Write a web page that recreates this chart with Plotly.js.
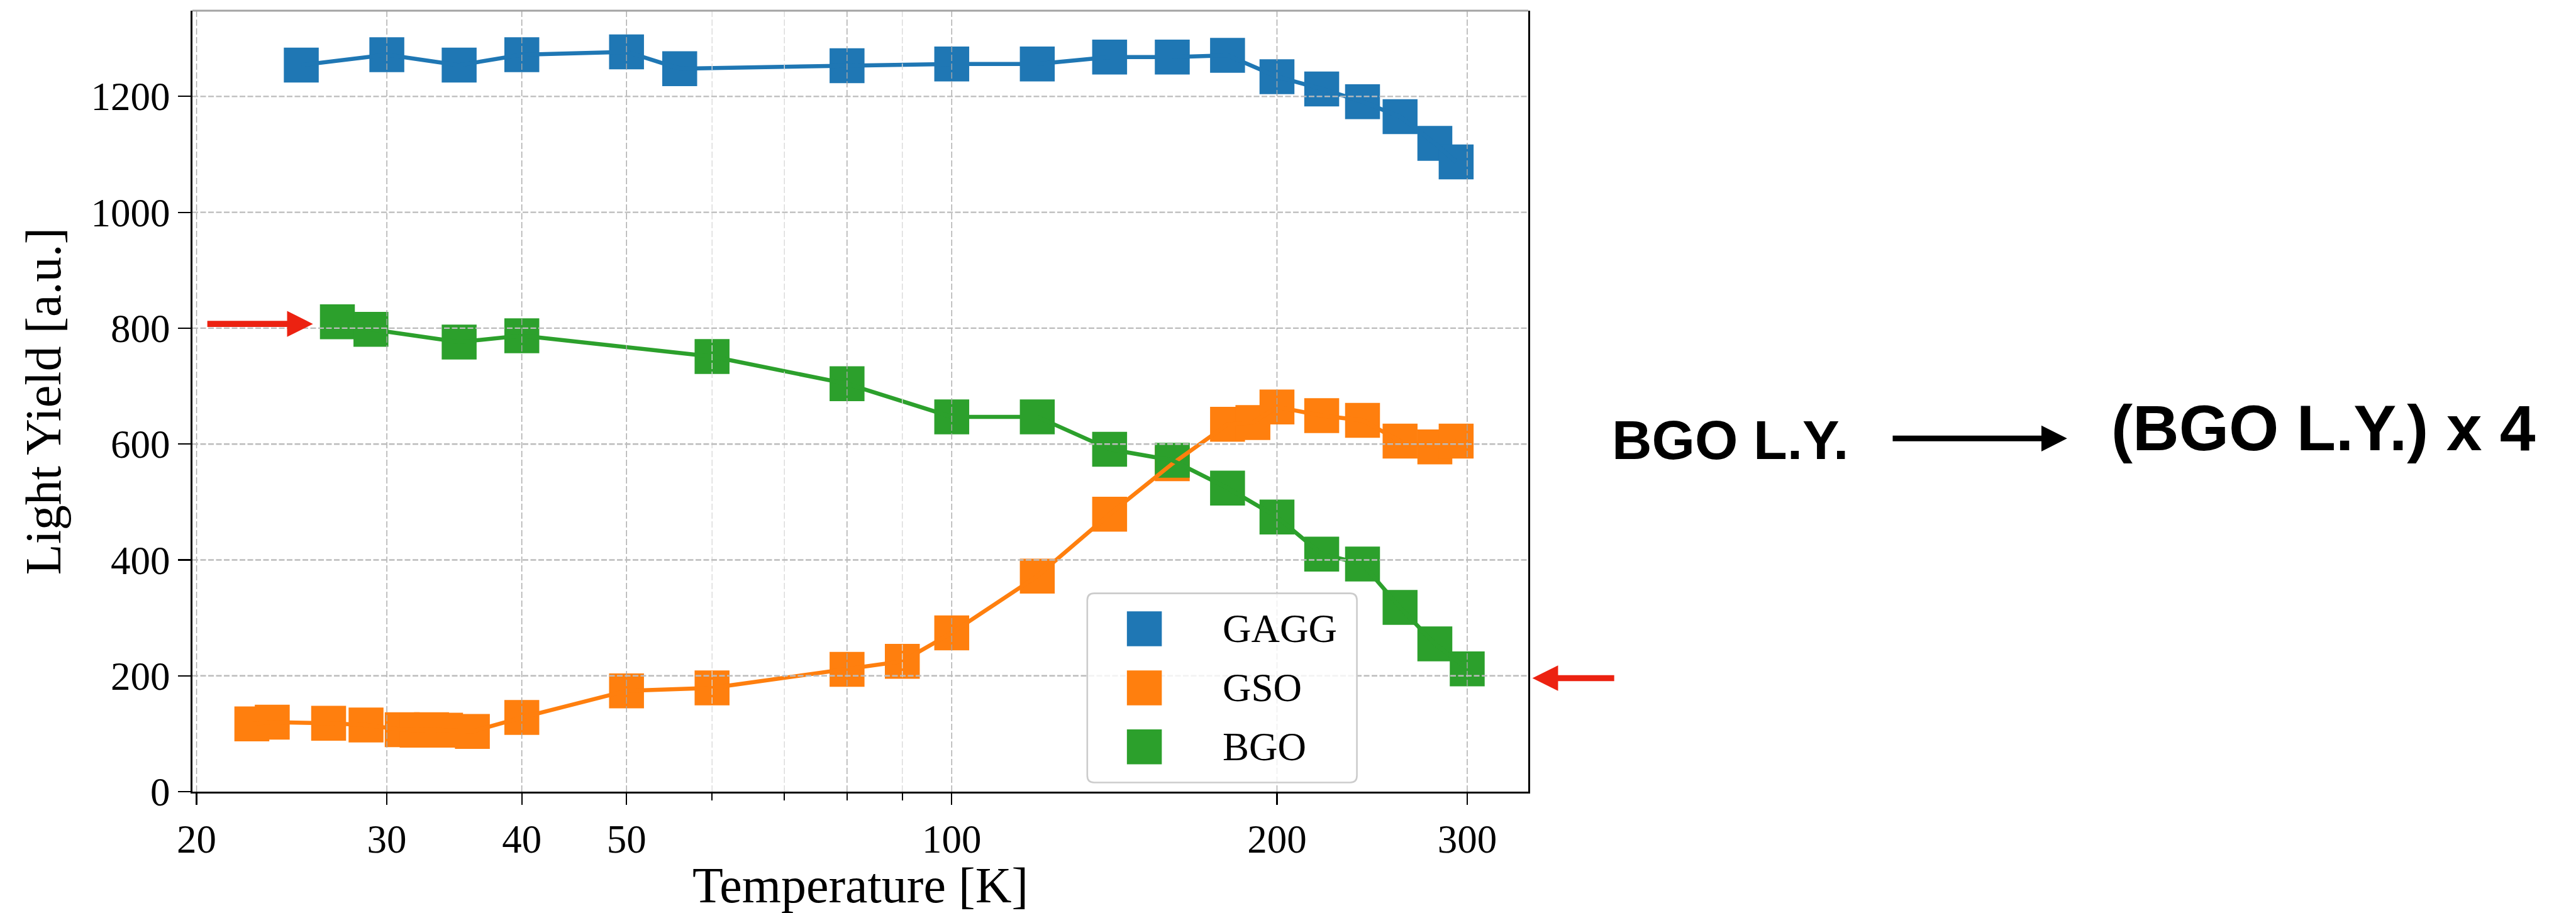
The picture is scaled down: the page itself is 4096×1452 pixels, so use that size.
<!DOCTYPE html>
<html>
<head>
<meta charset="utf-8">
<script src="https://cdn.plot.ly/plotly-3.0.1.min.js"></script>
<style>
html, body { margin: 0; padding: 0; background: #ffffff; }
#chart { width: 4096px; height: 1452px; }
</style>
</head>
<body>
<div id="chart"></div>
<script>
// ---------------- data ----------------
const seriesNames = ['GAGG', 'GSO', 'BGO'];
const seriesColors = ['#1f77b4', '#ff7f0e', '#2ca02c'];

const gaggTemp = [25, 30, 35, 40, 50, 56, 80, 100, 120, 140, 160, 180, 200, 220, 240, 260, 280, 293];
const gaggLY   = [1254, 1272, 1254, 1272, 1277, 1248, 1253, 1256, 1256, 1268, 1268, 1271, 1234, 1213, 1191, 1165, 1119, 1087];

const gsoTemp = [22.5, 23.5, 26.5, 28.7, 31, 32, 33, 34, 36, 40, 50, 60, 80, 90, 100, 120, 140, 160, 180, 190, 200, 220, 240, 260, 280, 293];
const gsoLY   = [117, 120, 118, 115, 107, 106, 107, 106, 104, 128, 174, 179, 211, 225, 274, 372, 479, 566, 634, 637, 664, 649, 641, 605, 595, 605];

const bgoTemp = [27, 29, 35, 40, 60, 80, 100, 120, 140, 160, 180, 200, 220, 240, 260, 280, 300];
const bgoLY   = [811, 798, 776, 787, 751, 704, 647, 647, 591, 572, 524, 474, 410, 393, 318, 255, 212];

const xTickVals  = [20, 30, 40, 50, 100, 200, 300];
const xTickText  = ['20', '30', '40', '50', '100', '200', '300'];
const xMinorVals = [60, 70, 80, 90];
const yTickVals  = [0, 200, 400, 600, 800, 1000, 1200];

const xTitle = 'Temperature [K]';
const yTitle = 'Light Yield [a.u.]';
const noteLeft  = 'BGO L.Y.';
const noteRight = '(BGO L.Y.) x 4';

// ---------------- layout geometry ----------------
const S = 0.926;
const W = 4096, H = 1452;
const M = { l: 306, r: 1666, t: 17, b: 193 };
const plotW = W - M.l - M.r, plotH = H - M.t - M.b;
const px = v => (v * S - M.l) / plotW;          // full-ref x pixel -> paper
const py = v => (H - M.b - v * S) / plotH;      // full-ref y pixel -> paper

const serif = 'Liberation Serif, Times New Roman, serif';
const sans = 'Liberation Sans, Arial, sans-serif';
const markerSize = 55.5;
const lineWidth = 6.5;

const allSeries = [
  { x: gaggTemp, y: gaggLY },
  { x: gsoTemp,  y: gsoLY },
  { x: bgoTemp,  y: bgoLY }
];

const traces = [];
allSeries.forEach((s, i) => {
  traces.push({
    type: 'scatter', mode: 'markers', x: s.x, y: s.y, name: seriesNames[i],
    showlegend: false, hoverinfo: 'skip',
    marker: { symbol: 'square', size: markerSize, color: seriesColors[i], line: { width: 0 } }
  });
});
allSeries.forEach((s, i) => {
  traces.push({
    type: 'scatter', mode: 'lines', x: s.x, y: s.y, name: seriesNames[i],
    showlegend: false, hoverinfo: 'skip',
    line: { color: seriesColors[i], width: lineWidth }
  });
});

// ---------------- shapes: grid above data, spines, legend, arrows ----------------
const shapes = [];
// vertical minor grid (lighter)
xMinorVals.forEach(v => {
  const major = (v === 80);
  shapes.push({ type: 'line', xref: 'x', yref: 'paper', x0: v, x1: v, y0: 0, y1: 1, layer: 'above',
    line: { color: major ? '#a8a8a8' : '#dadada', width: 1.4, dash: '10px,4px' } });
});
// vertical major grid
xTickVals.forEach(v => {
  shapes.push({ type: 'line', xref: 'x', yref: 'paper', x0: v, x1: v, y0: 0, y1: 1, layer: 'above',
    line: { color: '#a8a8a8', width: 1.4, dash: '10px,4px' } });
});
// horizontal grid
yTickVals.forEach(v => {
  if (v === 0) return;
  shapes.push({ type: 'line', xref: 'paper', yref: 'y', x0: 0, x1: 1, y0: v, y1: v, layer: 'above',
    line: { color: '#bcbcbc', width: 2.4, dash: '9px,3.5px' } });
});
// top spine (grey)
shapes.push({ type: 'line', xref: 'paper', yref: 'paper', x0: 0, x1: 1, y0: 1, y1: 1, layer: 'above',
  line: { color: '#a3a3a3', width: 3 } });

// legend box (rounded)
(function () {
  const x0 = px(1867), x1 = px(2330), y1 = py(1019), y0 = py(1344);
  const r = 11; const rx = r / plotW, ry = r / plotH;
  const p = `M${x0 + rx},${y0} L${x1 - rx},${y0} Q${x1},${y0} ${x1},${y0 + ry} L${x1},${y1 - ry} Q${x1},${y1} ${x1 - rx},${y1} ` +
            `L${x0 + rx},${y1} Q${x0},${y1} ${x0},${y1 - ry} L${x0},${y0 + ry} Q${x0},${y0} ${x0 + rx},${y0} Z`;
  shapes.push({ type: 'path', xref: 'paper', yref: 'paper', path: p, layer: 'above',
    fillcolor: 'rgba(255,255,255,0.8)', line: { color: '#cccccc', width: 2.6 } });
})();
const legendRowsY = [1080, 1181.5, 1282.6];
const legendKeyX = 1965, legendTextX = 2097;
const halfW = markerSize / 2 / plotW, halfH = markerSize / 2 / plotH;
seriesNames.forEach((n, i) => {
  const cx = px(legendKeyX), cy = py(legendRowsY[i]);
  shapes.push({ type: 'rect', xref: 'paper', yref: 'paper', layer: 'above',
    x0: cx - halfW, x1: cx + halfW, y0: cy - halfH, y1: cy + halfH,
    fillcolor: seriesColors[i], line: { width: 0 } });
});

// arrows: [shaftStart, headBase, tip, centerY, shaftThickness, headHeight, color]  (full-ref pixels)
const arrows = [
  { from: 356, base: 493, tip: 537.4, y: 556.3, th: 10.5, hh: 44.7, color: '#ec2211' },
  { from: 2771.8, base: 2675.4, tip: 2631.3, y: 1164.7, th: 10.5, hh: 43.7, color: '#ec2211' },
  { from: 3250, base: 3505.4, tip: 3549.5, y: 753, th: 9.8, hh: 44.6, color: '#000000' }
];
arrows.forEach(a => {
  const dir = a.tip > a.from ? 1 : -1;
  const xa = px(a.from), xb = px(a.base + dir * 1);
  shapes.push({ type: 'rect', xref: 'paper', yref: 'paper', layer: 'above',
    x0: Math.min(xa, xb), x1: Math.max(xa, xb), y0: py(a.y + a.th / 2), y1: py(a.y - a.th / 2),
    fillcolor: a.color, line: { width: 0 } });
  const p = `M${px(a.base)},${py(a.y - a.hh / 2)} L${px(a.tip)},${py(a.y)} L${px(a.base)},${py(a.y + a.hh / 2)} Z`;
  shapes.push({ type: 'path', xref: 'paper', yref: 'paper', layer: 'above', path: p,
    fillcolor: a.color, line: { width: 0 } });
});

// ---------------- annotations ----------------
const annotations = [];
seriesNames.forEach((n, i) => {
  annotations.push({ xref: 'paper', yref: 'paper', x: px(legendTextX), y: py(legendRowsY[i]),
    xanchor: 'left', yanchor: 'middle', showarrow: false, text: n,
    font: { family: serif, size: 63, color: '#000000' } });
});
annotations.push({ xref: 'paper', yref: 'paper', x: px(2971.5), y: py(755.5), xanchor: 'center', yanchor: 'middle',
  showarrow: false, text: noteLeft, font: { family: sans, size: 88, color: '#000000', weight: 700 } });
annotations.push({ xref: 'paper', yref: 'paper', x: px(3990), y: py(735.5), xanchor: 'center', yanchor: 'middle',
  showarrow: false, text: noteRight, font: { family: sans, size: 102, color: '#000000', weight: 700 } });

const layout = {
  width: W, height: H,
  margin: M,
  paper_bgcolor: '#ffffff', plot_bgcolor: '#ffffff',
  showlegend: false,
  font: { family: serif, color: '#000000' },
  xaxis: {
    type: 'log', range: [1.2972, 2.5336],
    tickmode: 'array', tickvals: xTickVals, ticktext: xTickText,
    ticks: 'outside', ticklen: 18.5, tickwidth: 2.2, tickcolor: '#000000',
    showline: true, linecolor: '#000000', linewidth: 2.8, mirror: false,
    showgrid: false, zeroline: false,
    tickfont: { family: serif, size: 63, color: '#000000' },
    minor: { tickmode: 'array', tickvals: xMinorVals, ticks: 'outside', ticklen: 11, tickwidth: 1.8, tickcolor: '#000000', showgrid: false },
    title: { text: xTitle, font: { family: serif, size: 80, color: '#000000' }, standoff: 12 },
    automargin: false
  },
  yaxis: {
    range: [0, 1348],
    tickmode: 'array', tickvals: yTickVals,
    ticks: 'outside', ticklen: 20, tickwidth: 2.2, tickcolor: '#000000',
    showline: true, linecolor: '#000000', linewidth: 2.8, mirror: true,
    showgrid: false, zeroline: false,
    tickfont: { family: serif, size: 63, color: '#000000' },
    title: { text: yTitle, font: { family: serif, size: 80, color: '#000000' }, standoff: 22 },
    automargin: false
  },
  shapes: shapes,
  annotations: annotations
};

Plotly.newPlot('chart', traces, layout, { staticPlot: true, displayModeBar: false });
</script>
</body>
</html>
